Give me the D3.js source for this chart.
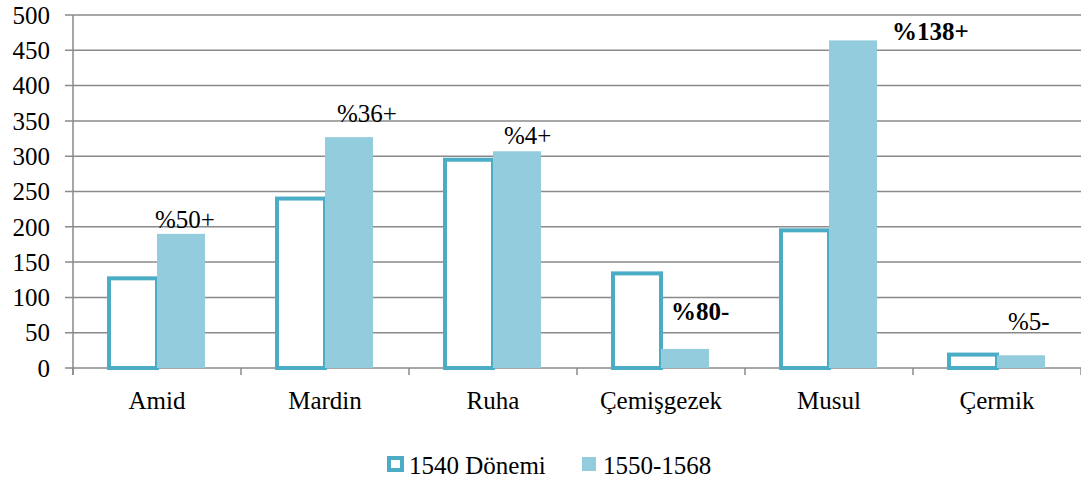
<!DOCTYPE html>
<html>
<head>
<meta charset="utf-8">
<script src="https://cdn.jsdelivr.net/npm/d3@7"></script>
</head>
<body style="margin:0;background:#fff">
<script>
// data
const categories = ['Amid', 'Mardin', 'Ruha', 'Çemişgezek', 'Musul', 'Çermik']
const seriesNames = ['1540 Dönemi', '1550-1568']
const values1540 = [127, 240, 295, 134, 195, 19]
const values1550 = [190, 327, 307, 27, 464, 18]
const changeLabels = ['%50+', '%36+', '%4+', '%80-', '%138+', '%5-']
const changeBold = [false, false, false, true, true, false]
const yTicks = [0, 50, 100, 150, 200, 250, 300, 350, 400, 450, 500]

const width = 1081
const height = 482
const margin = { top: 15, right: 0, bottom: 114, left: 73 }

const teal = '#4bacc6'
const light = '#93cddd'
const grid = '#8a8a8a'
const serif = '"Liberation Serif"'

const svg = d3.select('body').append('svg').attr('width', width).attr('height', height)
  .style('display', 'block')

const x0 = d3.scaleBand().domain(categories).range([margin.left, width - margin.right])
const x1 = d3.scaleBand().domain(seriesNames).range([0, x0.bandwidth()]).paddingOuter(0.75)
const y = d3.scaleLinear().domain([0, 500]).range([height - margin.bottom, margin.top])

// gridlines + y labels
const yAxis = svg.append('g').attr('transform', `translate(${margin.left},0)`)
yAxis.selectAll('line')
  .data(yTicks)
  .join('line')
  .attr('x1', -8)
  .attr('x2', width - margin.left)
  .attr('y1', (d) => y(d))
  .attr('y2', (d) => y(d))
  .attr('stroke', grid)
  .attr('stroke-width', 1.5)
yAxis.selectAll('text')
  .data(yTicks)
  .join('text')
  .attr('x', -23)
  .attr('y', (d) => y(d))
  .attr('dy', '0.35em')
  .attr('text-anchor', 'end')
  .style('font-size', '25px')
  .style('font-family', serif)
  .attr('fill', '#000')
  .text((d) => d)

// vertical axis
svg.append('line')
  .attr('x1', margin.left).attr('x2', margin.left)
  .attr('y1', y(500)).attr('y2', y(0) + 7)
  .attr('stroke', grid).attr('stroke-width', 1.5)

// category ticks
const boundaries = categories.map((c) => x0(c)).concat([x0(categories[categories.length - 1]) + x0.bandwidth()])
svg.append('g').selectAll('line')
  .data(boundaries)
  .join('line')
  .attr('x1', (d) => d).attr('x2', (d) => d)
  .attr('y1', y(0)).attr('y2', y(0) + 7)
  .attr('stroke', grid).attr('stroke-width', 1.5)

svg.append('g').selectAll('text')
  .data(categories)
  .join('text')
  .attr('x', (d) => x0(d) + x0.bandwidth() / 2)
  .attr('y', y(0) + 41)
  .attr('text-anchor', 'middle')
  .style('font-size', '25px')
  .style('font-family', serif)
  .attr('fill', '#000')
  .text((d) => d)

const rows = categories.map((c, i) => ({ cat: c, i, v1540: values1540[i], v1550: values1550[i] }))

// 1540: outlined bars
svg.append('g').selectAll('rect')
  .data(rows)
  .join('rect')
  .attr('x', (d) => x0(d.cat) + x1(seriesNames[0]))
  .attr('y', (d) => y(d.v1540))
  .attr('width', x1.bandwidth())
  .attr('height', (d) => y(0) - y(d.v1540))
  .attr('fill', '#fff')
  .attr('stroke', teal)
  .attr('stroke-width', 4)

// 1550-1568: filled bars
svg.append('g').selectAll('rect')
  .data(rows)
  .join('rect')
  .attr('x', (d) => x0(d.cat) + x1(seriesNames[1]))
  .attr('y', (d) => y(d.v1550))
  .attr('width', x1.bandwidth())
  .attr('height', (d) => y(0) - y(d.v1550))
  .attr('fill', light)

// hand-placed change labels, nudged from the top-left corner of each 1550 bar
const nudge = [[-2, -6], [12, -15], [11, -7], [10, -29], [63, 0], [11, -25]]
svg.append('g').selectAll('text')
  .data(rows)
  .join('text')
  .attr('x', (d) => x0(d.cat) + x1(seriesNames[1]) + nudge[d.i][0])
  .attr('y', (d) => y(d.v1550) + nudge[d.i][1])
  .style('font-size', '25px')
  .style('font-family', serif)
  .style('font-weight', (d) => (changeBold[d.i] ? 'bold' : 'normal'))
  .attr('fill', '#000')
  .text((d) => changeLabels[d.i])

// legend
const legend = svg.append('g')
legend.append('rect')
  .attr('x', 389).attr('y', 458).attr('width', 13).attr('height', 12)
  .attr('fill', '#fff').attr('stroke', teal).attr('stroke-width', 4)
legend.append('text')
  .attr('x', 409).attr('y', 474)
  .style('font-size', '25px')
  .style('font-family', serif)
  .attr('fill', '#000')
  .text(seriesNames[0])
legend.append('rect')
  .attr('x', 582).attr('y', 457).attr('width', 14).attr('height', 14)
  .attr('fill', light)
legend.append('text')
  .attr('x', 603).attr('y', 474)
  .style('font-size', '25px')
  .style('font-family', serif)
  .attr('fill', '#000')
  .text(seriesNames[1])
</script>
</body>
</html>
